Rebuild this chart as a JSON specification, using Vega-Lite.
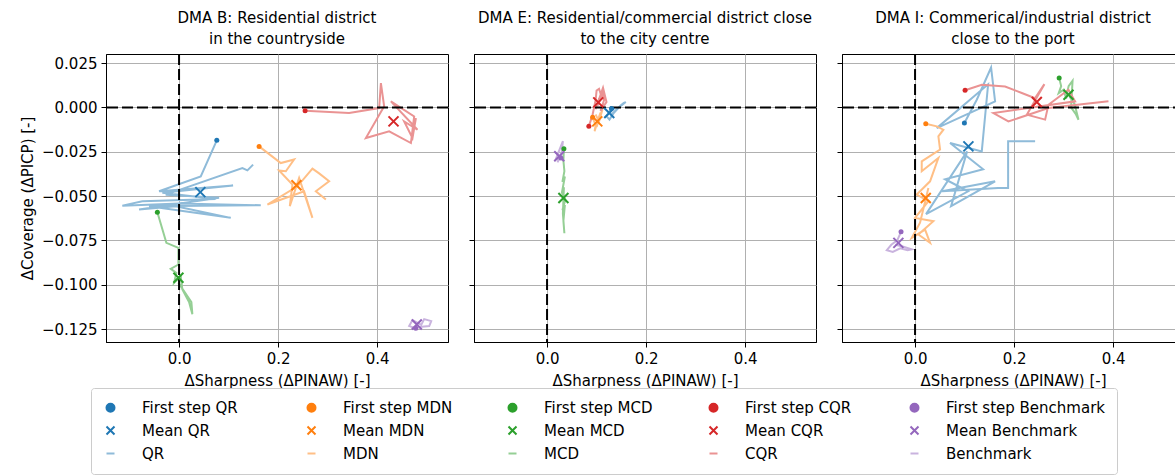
{
"$schema": "https://vega.github.io/schema/vega-lite/v6.json",
"background": "white",
"padding": {"left": 19, "top": 10, "right": 5, "bottom": 5},
"spacing": 18,
"data": {"values": [
{"p":"B","t":"l","s":"QR","i":0,"x":0.0762,"y":-0.0186},
{"p":"B","t":"l","s":"QR","i":1,"x":0.0438,"y":-0.0389},
{"p":"B","t":"l","s":"QR","i":2,"x":-0.0404,"y":-0.0473},
{"p":"B","t":"l","s":"QR","i":3,"x":0.1091,"y":-0.0441},
{"p":"B","t":"l","s":"QR","i":4,"x":-0.0337,"y":-0.0482},
{"p":"B","t":"l","s":"QR","i":5,"x":0.0741,"y":-0.0516},
{"p":"B","t":"l","s":"QR","i":6,"x":-0.0741,"y":-0.0529},
{"p":"B","t":"l","s":"QR","i":7,"x":-0.1145,"y":-0.0554},
{"p":"B","t":"l","s":"QR","i":8,"x":0.0,"y":-0.0542},
{"p":"B","t":"l","s":"QR","i":9,"x":0.165,"y":-0.0552},
{"p":"B","t":"l","s":"QR","i":10,"x":-0.0606,"y":-0.0557},
{"p":"B","t":"l","s":"QR","i":11,"x":0.1044,"y":-0.0623},
{"p":"B","t":"l","s":"QR","i":12,"x":-0.0067,"y":-0.0557},
{"p":"B","t":"l","s":"QR","i":13,"x":-0.0808,"y":-0.0576},
{"p":"B","t":"l","s":"QR","i":14,"x":0.0808,"y":-0.051},
{"p":"B","t":"l","s":"QR","i":15,"x":-0.0269,"y":-0.0492},
{"p":"B","t":"l","s":"QR","i":16,"x":0.1279,"y":-0.0342},
{"p":"B","t":"l","s":"QR","i":17,"x":0.138,"y":-0.0355},
{"p":"B","t":"l","s":"QR","i":18,"x":0.1495,"y":-0.0323},
{"p":"B","t":"l","s":"MDN","i":0,"x":0.1616,"y":-0.022},
{"p":"B","t":"l","s":"MDN","i":1,"x":0.2054,"y":-0.0314},
{"p":"B","t":"l","s":"MDN","i":2,"x":0.2323,"y":-0.0294},
{"p":"B","t":"l","s":"MDN","i":3,"x":0.2156,"y":-0.036},
{"p":"B","t":"l","s":"MDN","i":4,"x":0.202,"y":-0.0356},
{"p":"B","t":"l","s":"MDN","i":5,"x":0.2289,"y":-0.0435},
{"p":"B","t":"l","s":"MDN","i":6,"x":0.2236,"y":-0.0557},
{"p":"B","t":"l","s":"MDN","i":7,"x":0.2424,"y":-0.0398},
{"p":"B","t":"l","s":"MDN","i":8,"x":0.2693,"y":-0.0623},
{"p":"B","t":"l","s":"MDN","i":9,"x":0.2525,"y":-0.0473},
{"p":"B","t":"l","s":"MDN","i":10,"x":0.1784,"y":-0.0548},
{"p":"B","t":"l","s":"MDN","i":11,"x":0.239,"y":-0.0445},
{"p":"B","t":"l","s":"MDN","i":12,"x":0.2693,"y":-0.0345},
{"p":"B","t":"l","s":"MDN","i":13,"x":0.2828,"y":-0.0372},
{"p":"B","t":"l","s":"MDN","i":14,"x":0.303,"y":-0.0417},
{"p":"B","t":"l","s":"MDN","i":15,"x":0.2762,"y":-0.0473},
{"p":"B","t":"l","s":"MDN","i":16,"x":0.2964,"y":-0.052},
{"p":"B","t":"l","s":"MCD","i":0,"x":-0.0438,"y":-0.0591},
{"p":"B","t":"l","s":"MCD","i":1,"x":-0.0256,"y":-0.0764},
{"p":"B","t":"l","s":"MCD","i":2,"x":-0.0013,"y":-0.0792},
{"p":"B","t":"l","s":"MCD","i":3,"x":-0.0013,"y":-0.0886},
{"p":"B","t":"l","s":"MCD","i":4,"x":-0.0168,"y":-0.091},
{"p":"B","t":"l","s":"MCD","i":5,"x":-0.0054,"y":-0.0933},
{"p":"B","t":"l","s":"MCD","i":6,"x":-0.0101,"y":-0.0989},
{"p":"B","t":"l","s":"MCD","i":7,"x":0.0034,"y":-0.0952},
{"p":"B","t":"l","s":"MCD","i":8,"x":0.0067,"y":-0.1027},
{"p":"B","t":"l","s":"MCD","i":9,"x":0.0202,"y":-0.1098},
{"p":"B","t":"l","s":"MCD","i":10,"x":0.0269,"y":-0.1167},
{"p":"B","t":"l","s":"MCD","i":11,"x":0.0249,"y":-0.1098},
{"p":"B","t":"l","s":"MCD","i":12,"x":-0.0013,"y":-0.0989},
{"p":"B","t":"l","s":"CQR","i":0,"x":0.2545,"y":-0.0019},
{"p":"B","t":"l","s":"CQR","i":1,"x":0.3434,"y":-0.0032},
{"p":"B","t":"l","s":"CQR","i":2,"x":0.404,"y":-0.0004},
{"p":"B","t":"l","s":"CQR","i":3,"x":0.4075,"y":0.0137},
{"p":"B","t":"l","s":"CQR","i":4,"x":0.4141,"y":0.0006},
{"p":"B","t":"l","s":"CQR","i":5,"x":0.3772,"y":-0.0173},
{"p":"B","t":"l","s":"CQR","i":6,"x":0.4242,"y":-0.0135},
{"p":"B","t":"l","s":"CQR","i":7,"x":0.4681,"y":-0.0201},
{"p":"B","t":"l","s":"CQR","i":8,"x":0.4747,"y":-0.0051},
{"p":"B","t":"l","s":"CQR","i":9,"x":0.4277,"y":0.0034},
{"p":"B","t":"l","s":"CQR","i":10,"x":0.4814,"y":-0.0126},
{"p":"B","t":"l","s":"CQR","i":11,"x":0.4545,"y":-0.0079},
{"p":"B","t":"l","s":"CQR","i":12,"x":0.4713,"y":-0.0173},
{"p":"B","t":"l","s":"CQR","i":13,"x":0.4782,"y":-0.006},
{"p":"B","t":"l","s":"Benchmark","i":0,"x":0.478,"y":-0.1246},
{"p":"B","t":"l","s":"Benchmark","i":1,"x":0.4646,"y":-0.1233},
{"p":"B","t":"l","s":"Benchmark","i":2,"x":0.4713,"y":-0.1199},
{"p":"B","t":"l","s":"Benchmark","i":3,"x":0.4889,"y":-0.1227},
{"p":"B","t":"l","s":"Benchmark","i":4,"x":0.4949,"y":-0.1194},
{"p":"B","t":"l","s":"Benchmark","i":5,"x":0.5091,"y":-0.1205},
{"p":"B","t":"l","s":"Benchmark","i":6,"x":0.5051,"y":-0.1233},
{"p":"B","t":"l","s":"Benchmark","i":7,"x":0.4848,"y":-0.1239},
{"p":"B","t":"f","s":"First step QR","x":0.0762,"y":-0.0186},
{"p":"B","t":"f","s":"First step MDN","x":0.1616,"y":-0.022},
{"p":"B","t":"f","s":"First step MCD","x":-0.0438,"y":-0.0591},
{"p":"B","t":"f","s":"First step CQR","x":0.2545,"y":-0.0019},
{"p":"B","t":"f","s":"First step Benchmark","x":0.478,"y":-0.1246},
{"p":"B","t":"m","s":"Mean QR","x":0.043,"y":-0.0478},
{"p":"B","t":"m","s":"Mean MDN","x":0.237,"y":-0.0439},
{"p":"B","t":"m","s":"Mean MCD","x":-0.0013,"y":-0.0961},
{"p":"B","t":"m","s":"Mean CQR","x":0.433,"y":-0.0079},
{"p":"B","t":"m","s":"Mean Benchmark","x":0.48,"y":-0.1224},
{"p":"E","t":"l","s":"QR","i":0,"x":0.13,"y":-0.0007},
{"p":"E","t":"l","s":"QR","i":1,"x":0.12,"y":-0.005},
{"p":"E","t":"l","s":"QR","i":2,"x":0.126,"y":-0.0069},
{"p":"E","t":"l","s":"QR","i":3,"x":0.135,"y":-0.003},
{"p":"E","t":"l","s":"QR","i":4,"x":0.142,"y":-0.001},
{"p":"E","t":"l","s":"QR","i":5,"x":0.148,"y":0.001},
{"p":"E","t":"l","s":"QR","i":6,"x":0.155,"y":0.0025},
{"p":"E","t":"l","s":"QR","i":7,"x":0.159,"y":0.003},
{"p":"E","t":"l","s":"QR","i":8,"x":0.145,"y":0.0},
{"p":"E","t":"l","s":"QR","i":9,"x":0.13,"y":-0.004},
{"p":"E","t":"l","s":"MDN","i":0,"x":0.092,"y":-0.0056},
{"p":"E","t":"l","s":"MDN","i":1,"x":0.098,"y":-0.01},
{"p":"E","t":"l","s":"MDN","i":2,"x":0.096,"y":-0.0135},
{"p":"E","t":"l","s":"MDN","i":3,"x":0.104,"y":-0.006},
{"p":"E","t":"l","s":"MDN","i":4,"x":0.108,"y":-0.003},
{"p":"E","t":"l","s":"MDN","i":5,"x":0.1,"y":-0.011},
{"p":"E","t":"l","s":"MDN","i":6,"x":0.112,"y":-0.001},
{"p":"E","t":"l","s":"MDN","i":7,"x":0.105,"y":-0.008},
{"p":"E","t":"l","s":"MDN","i":8,"x":0.098,"y":-0.004},
{"p":"E","t":"l","s":"MCD","i":0,"x":0.034,"y":-0.0233},
{"p":"E","t":"l","s":"MCD","i":1,"x":0.033,"y":-0.03},
{"p":"E","t":"l","s":"MCD","i":2,"x":0.035,"y":-0.036},
{"p":"E","t":"l","s":"MCD","i":3,"x":0.031,"y":-0.042},
{"p":"E","t":"l","s":"MCD","i":4,"x":0.036,"y":-0.039},
{"p":"E","t":"l","s":"MCD","i":5,"x":0.03,"y":-0.048},
{"p":"E","t":"l","s":"MCD","i":6,"x":0.037,"y":-0.052},
{"p":"E","t":"l","s":"MCD","i":7,"x":0.031,"y":-0.058},
{"p":"E","t":"l","s":"MCD","i":8,"x":0.036,"y":-0.055},
{"p":"E","t":"l","s":"MCD","i":9,"x":0.033,"y":-0.064},
{"p":"E","t":"l","s":"MCD","i":10,"x":0.035,"y":-0.071},
{"p":"E","t":"l","s":"MCD","i":11,"x":0.032,"y":-0.06},
{"p":"E","t":"l","s":"MCD","i":12,"x":0.034,"y":-0.045},
{"p":"E","t":"l","s":"CQR","i":0,"x":0.0844,"y":-0.0107},
{"p":"E","t":"l","s":"CQR","i":1,"x":0.092,"y":-0.004},
{"p":"E","t":"l","s":"CQR","i":2,"x":0.098,"y":0.004},
{"p":"E","t":"l","s":"CQR","i":3,"x":0.1,"y":0.0095},
{"p":"E","t":"l","s":"CQR","i":4,"x":0.105,"y":0.0105},
{"p":"E","t":"l","s":"CQR","i":5,"x":0.11,"y":0.006},
{"p":"E","t":"l","s":"CQR","i":6,"x":0.102,"y":0.001},
{"p":"E","t":"l","s":"CQR","i":7,"x":0.112,"y":0.009},
{"p":"E","t":"l","s":"CQR","i":8,"x":0.115,"y":0.004},
{"p":"E","t":"l","s":"CQR","i":9,"x":0.108,"y":-0.002},
{"p":"E","t":"l","s":"CQR","i":10,"x":0.12,"y":0.003},
{"p":"E","t":"l","s":"CQR","i":11,"x":0.113,"y":0.011},
{"p":"E","t":"l","s":"CQR","i":12,"x":0.098,"y":-0.001},
{"p":"E","t":"l","s":"CQR","i":13,"x":0.105,"y":0.005},
{"p":"E","t":"l","s":"Benchmark","i":0,"x":0.028,"y":-0.0285},
{"p":"E","t":"l","s":"Benchmark","i":1,"x":0.018,"y":-0.029},
{"p":"E","t":"l","s":"Benchmark","i":2,"x":0.025,"y":-0.024},
{"p":"E","t":"l","s":"Benchmark","i":3,"x":0.032,"y":-0.019},
{"p":"E","t":"l","s":"Benchmark","i":4,"x":0.029,"y":-0.027},
{"p":"E","t":"l","s":"Benchmark","i":5,"x":0.021,"y":-0.031},
{"p":"E","t":"l","s":"Benchmark","i":6,"x":0.03,"y":-0.025},
{"p":"E","t":"f","s":"First step QR","x":0.13,"y":-0.0007},
{"p":"E","t":"f","s":"First step MDN","x":0.092,"y":-0.0056},
{"p":"E","t":"f","s":"First step MCD","x":0.034,"y":-0.0233},
{"p":"E","t":"f","s":"First step CQR","x":0.0844,"y":-0.0107},
{"p":"E","t":"f","s":"First step Benchmark","x":0.028,"y":-0.0285},
{"p":"E","t":"m","s":"Mean QR","x":0.1256,"y":-0.0032},
{"p":"E","t":"m","s":"Mean MDN","x":0.1014,"y":-0.0079},
{"p":"E","t":"m","s":"Mean MCD","x":0.033,"y":-0.0511},
{"p":"E","t":"m","s":"Mean CQR","x":0.1034,"y":0.0028},
{"p":"E","t":"m","s":"Mean Benchmark","x":0.0246,"y":-0.0276},
{"p":"I","t":"l","s":"QR","i":0,"x":0.0996,"y":-0.0088},
{"p":"I","t":"l","s":"QR","i":1,"x":0.1246,"y":0.0043},
{"p":"I","t":"l","s":"QR","i":2,"x":0.1535,"y":0.0225},
{"p":"I","t":"l","s":"QR","i":3,"x":0.1616,"y":0.0034},
{"p":"I","t":"l","s":"QR","i":4,"x":0.0438,"y":-0.0117},
{"p":"I","t":"l","s":"QR","i":5,"x":0.1475,"y":0.013},
{"p":"I","t":"l","s":"QR","i":6,"x":0.1347,"y":-0.0248},
{"p":"I","t":"l","s":"QR","i":7,"x":0.0707,"y":-0.0201},
{"p":"I","t":"l","s":"QR","i":8,"x":0.1374,"y":-0.0349},
{"p":"I","t":"l","s":"QR","i":9,"x":0.0606,"y":-0.0405},
{"p":"I","t":"l","s":"QR","i":10,"x":0.1071,"y":-0.0473},
{"p":"I","t":"l","s":"QR","i":11,"x":0.0222,"y":-0.0602},
{"p":"I","t":"l","s":"QR","i":12,"x":0.1051,"y":-0.0248},
{"p":"I","t":"l","s":"QR","i":13,"x":0.0727,"y":-0.0557},
{"p":"I","t":"l","s":"QR","i":14,"x":0.1616,"y":-0.0417},
{"p":"I","t":"l","s":"QR","i":15,"x":0.0545,"y":-0.0473},
{"p":"I","t":"l","s":"QR","i":16,"x":0.1677,"y":-0.0454},
{"p":"I","t":"l","s":"QR","i":17,"x":0.1879,"y":-0.0454},
{"p":"I","t":"l","s":"QR","i":18,"x":0.1879,"y":-0.0191},
{"p":"I","t":"l","s":"QR","i":19,"x":0.2424,"y":-0.0191},
{"p":"I","t":"l","s":"MDN","i":0,"x":0.0216,"y":-0.0092},
{"p":"I","t":"l","s":"MDN","i":1,"x":0.0438,"y":-0.0107},
{"p":"I","t":"l","s":"MDN","i":2,"x":0.0572,"y":-0.0126},
{"p":"I","t":"l","s":"MDN","i":3,"x":0.0471,"y":-0.0163},
{"p":"I","t":"l","s":"MDN","i":4,"x":0.0505,"y":-0.0238},
{"p":"I","t":"l","s":"MDN","i":5,"x":0.0135,"y":-0.0304},
{"p":"I","t":"l","s":"MDN","i":6,"x":0.0135,"y":-0.036},
{"p":"I","t":"l","s":"MDN","i":7,"x":0.0471,"y":-0.0285},
{"p":"I","t":"l","s":"MDN","i":8,"x":0.0303,"y":-0.0417},
{"p":"I","t":"l","s":"MDN","i":9,"x":0.0034,"y":-0.0492},
{"p":"I","t":"l","s":"MDN","i":10,"x":0.0269,"y":-0.0529},
{"p":"I","t":"l","s":"MDN","i":11,"x":0.0,"y":-0.0623},
{"p":"I","t":"l","s":"MDN","i":12,"x":0.037,"y":-0.0642},
{"p":"I","t":"l","s":"MDN","i":13,"x":0.0067,"y":-0.0717},
{"p":"I","t":"l","s":"MDN","i":14,"x":0.0303,"y":-0.0764},
{"p":"I","t":"l","s":"MDN","i":15,"x":0.0202,"y":-0.0689},
{"p":"I","t":"l","s":"MDN","i":16,"x":-0.0067,"y":-0.0736},
{"p":"I","t":"l","s":"MDN","i":17,"x":0.0101,"y":-0.065},
{"p":"I","t":"l","s":"MDN","i":18,"x":0.0269,"y":-0.0455},
{"p":"I","t":"l","s":"MCD","i":0,"x":0.291,"y":0.0165},
{"p":"I","t":"l","s":"MCD","i":1,"x":0.295,"y":0.012},
{"p":"I","t":"l","s":"MCD","i":2,"x":0.29,"y":0.008},
{"p":"I","t":"l","s":"MCD","i":3,"x":0.3,"y":0.01},
{"p":"I","t":"l","s":"MCD","i":4,"x":0.305,"y":0.005},
{"p":"I","t":"l","s":"MCD","i":5,"x":0.31,"y":0.012},
{"p":"I","t":"l","s":"MCD","i":6,"x":0.318,"y":0.015},
{"p":"I","t":"l","s":"MCD","i":7,"x":0.315,"y":0.0},
{"p":"I","t":"l","s":"MCD","i":8,"x":0.325,"y":-0.004},
{"p":"I","t":"l","s":"MCD","i":9,"x":0.33,"y":-0.007},
{"p":"I","t":"l","s":"MCD","i":10,"x":0.322,"y":0.002},
{"p":"I","t":"l","s":"MCD","i":11,"x":0.312,"y":0.006},
{"p":"I","t":"l","s":"CQR","i":0,"x":0.101,"y":0.0097},
{"p":"I","t":"l","s":"CQR","i":1,"x":0.1347,"y":0.0128},
{"p":"I","t":"l","s":"CQR","i":2,"x":0.1818,"y":0.0118},
{"p":"I","t":"l","s":"CQR","i":3,"x":0.2155,"y":0.0081},
{"p":"I","t":"l","s":"CQR","i":4,"x":0.2424,"y":0.0052},
{"p":"I","t":"l","s":"CQR","i":5,"x":0.2612,"y":0.0131},
{"p":"I","t":"l","s":"CQR","i":6,"x":0.2257,"y":-0.0041},
{"p":"I","t":"l","s":"CQR","i":7,"x":0.2626,"y":-0.0069},
{"p":"I","t":"l","s":"CQR","i":8,"x":0.2693,"y":0.0015},
{"p":"I","t":"l","s":"CQR","i":9,"x":0.3097,"y":0.01},
{"p":"I","t":"l","s":"CQR","i":10,"x":0.3232,"y":0.0034},
{"p":"I","t":"l","s":"CQR","i":11,"x":0.1582,"y":-0.0032},
{"p":"I","t":"l","s":"CQR","i":12,"x":0.1885,"y":-0.0079},
{"p":"I","t":"l","s":"CQR","i":13,"x":0.2693,"y":-0.0004},
{"p":"I","t":"l","s":"CQR","i":14,"x":0.3905,"y":0.0034},
{"p":"I","t":"l","s":"Benchmark","i":0,"x":-0.0283,"y":-0.0702},
{"p":"I","t":"l","s":"Benchmark","i":1,"x":-0.036,"y":-0.075},
{"p":"I","t":"l","s":"Benchmark","i":2,"x":-0.048,"y":-0.0775},
{"p":"I","t":"l","s":"Benchmark","i":3,"x":-0.057,"y":-0.0805},
{"p":"I","t":"l","s":"Benchmark","i":4,"x":-0.045,"y":-0.0815},
{"p":"I","t":"l","s":"Benchmark","i":5,"x":-0.03,"y":-0.0795},
{"p":"I","t":"l","s":"Benchmark","i":6,"x":-0.015,"y":-0.0805},
{"p":"I","t":"l","s":"Benchmark","i":7,"x":-0.007,"y":-0.08},
{"p":"I","t":"l","s":"Benchmark","i":8,"x":-0.025,"y":-0.0785},
{"p":"I","t":"l","s":"Benchmark","i":9,"x":-0.04,"y":-0.0775},
{"p":"I","t":"f","s":"First step QR","x":0.0996,"y":-0.0088},
{"p":"I","t":"f","s":"First step MDN","x":0.0216,"y":-0.0092},
{"p":"I","t":"f","s":"First step MCD","x":0.291,"y":0.0165},
{"p":"I","t":"f","s":"First step CQR","x":0.101,"y":0.0097},
{"p":"I","t":"f","s":"First step Benchmark","x":-0.0283,"y":-0.0702},
{"p":"I","t":"m","s":"Mean QR","x":0.1077,"y":-0.022},
{"p":"I","t":"m","s":"Mean MDN","x":0.0216,"y":-0.0511},
{"p":"I","t":"m","s":"Mean MCD","x":0.3098,"y":0.0071},
{"p":"I","t":"m","s":"Mean CQR","x":0.2458,"y":0.003},
{"p":"I","t":"m","s":"Mean Benchmark","x":-0.0337,"y":-0.0764}
]},
"hconcat": [
{
 "width": 342, "height": 288,
 "title": {"text": ["DMA B: Residential district", "in the countryside"]},
 "layer": [
  {"transform": [{"filter": "datum.p=='B' && datum.t=='l'"}],
   "mark": {"type": "line", "strokeWidth": 2},
   "encoding": {
    "x": {"field": "x", "type": "quantitative", "scale": {"domain": [-0.1475, 0.543], "nice": false, "zero": false}, "axis": {"values": [0, 0.2, 0.4], "format": ".1f", "title": "ΔSharpness (ΔPINAW) [-]"}},
    "y": {"field": "y", "type": "quantitative", "scale": {"domain": [-0.1323, 0.0301], "nice": false, "zero": false}, "axis": {"values": [-0.125, -0.1, -0.075, -0.05, -0.025, 0, 0.025], "format": ".3f", "title": "ΔCoverage (ΔPICP) [-]"}},
    "color": {"field": "s", "type": "nominal",
      "scale": {"domain": ["First step QR","First step MDN","First step MCD","First step CQR","First step Benchmark","Mean QR","Mean MDN","Mean MCD","Mean CQR","Mean Benchmark","QR","MDN","MCD","CQR","Benchmark"],
                "range": ["#1f77b4","#ff7f0e","#2ca02c","#d62728","#9467bd","#1f77b4","#ff7f0e","#2ca02c","#d62728","#9467bd","#8fbbd9","#ffbf86","#95cf95","#ea9393","#c9b3de"]},
      "legend": {"title": null, "orient": "none", "legendX": -15, "legendY": 334, "direction": "horizontal", "columns": 5, "gridAlign": "all",
        "symbolSize": 64, "symbolStrokeWidth": 2, "labelFontSize": 15, "labelFont": "DejaVu Sans", "labelColor": "black", "labelOffset": 24, "columnPadding": 2, "rowPadding": 6,
        "padding": 12, "strokeColor": "#cccccc", "fillColor": "white", "cornerRadius": 3, "labelLimit": 300}},
    "order": {"field": "i", "type": "quantitative"}
   }},
  {"data": {"values": [{"v": 0}]}, "mark": {"type": "rule", "color": "black", "strokeWidth": 2, "strokeDash": [11, 4]}, "encoding": {"x": {"field": "v", "type": "quantitative"}}},
  {"data": {"values": [{"v": 0}]}, "mark": {"type": "rule", "color": "black", "strokeWidth": 2, "strokeDash": [11, 4]}, "encoding": {"y": {"field": "v", "type": "quantitative"}}},
  {"transform": [{"filter": "datum.p=='B' && datum.t=='f'"}],
   "mark": {"type": "point", "filled": true, "size": 25, "opacity": 1},
   "encoding": {
    "x": {"field": "x", "type": "quantitative"},
    "y": {"field": "y", "type": "quantitative"},
    "color": {"field": "s", "type": "nominal"},
    "shape": {"field": "s", "type": "nominal",
      "scale": {"domain": ["First step QR","First step MDN","First step MCD","First step CQR","First step Benchmark","Mean QR","Mean MDN","Mean MCD","Mean CQR","Mean Benchmark","QR","MDN","MCD","CQR","Benchmark"],
                "range": ["circle","circle","circle","circle","circle","M-1,-1L1,1M-1,1L1,-1","M-1,-1L1,1M-1,1L1,-1","M-1,-1L1,1M-1,1L1,-1","M-1,-1L1,1M-1,1L1,-1","M-1,-1L1,1M-1,1L1,-1","stroke","stroke","stroke","stroke","stroke"]}}
   }},
  {"transform": [{"filter": "datum.p=='B' && datum.t=='m'"}],
   "mark": {"type": "point", "filled": false, "size": 100, "strokeWidth": 2, "opacity": 1},
   "encoding": {
    "x": {"field": "x", "type": "quantitative"},
    "y": {"field": "y", "type": "quantitative"},
    "color": {"field": "s", "type": "nominal"},
    "shape": {"field": "s", "type": "nominal"}
   }}
 ]
},
{
 "width": 342, "height": 288,
 "title": {"text": ["DMA E: Residential/commercial district close", "to the city centre"]},
 "layer": [
  {"transform": [{"filter": "datum.p=='E' && datum.t=='l'"}],
   "mark": {"type": "line", "strokeWidth": 2},
   "encoding": {
    "x": {"field": "x", "type": "quantitative", "scale": {"domain": [-0.1475, 0.543], "nice": false, "zero": false}, "axis": {"values": [0, 0.2, 0.4], "format": ".1f", "title": "ΔSharpness (ΔPINAW) [-]"}},
    "y": {"field": "y", "type": "quantitative", "scale": {"domain": [-0.1323, 0.0301], "nice": false, "zero": false}, "axis": {"values": [-0.125, -0.1, -0.075, -0.05, -0.025, 0, 0.025], "labels": false, "title": null}},
    "color": {"field": "s", "type": "nominal"},
    "order": {"field": "i", "type": "quantitative"}
   }},
  {"data": {"values": [{"v": 0}]}, "mark": {"type": "rule", "color": "black", "strokeWidth": 2, "strokeDash": [11, 4]}, "encoding": {"x": {"field": "v", "type": "quantitative"}}},
  {"data": {"values": [{"v": 0}]}, "mark": {"type": "rule", "color": "black", "strokeWidth": 2, "strokeDash": [11, 4]}, "encoding": {"y": {"field": "v", "type": "quantitative"}}},
  {"transform": [{"filter": "datum.p=='E' && datum.t=='f'"}],
   "mark": {"type": "point", "filled": true, "size": 25, "opacity": 1},
   "encoding": {
    "x": {"field": "x", "type": "quantitative"},
    "y": {"field": "y", "type": "quantitative"},
    "color": {"field": "s", "type": "nominal"},
    "shape": {"field": "s", "type": "nominal"}
   }},
  {"transform": [{"filter": "datum.p=='E' && datum.t=='m'"}],
   "mark": {"type": "point", "filled": false, "size": 100, "strokeWidth": 2, "opacity": 1},
   "encoding": {
    "x": {"field": "x", "type": "quantitative"},
    "y": {"field": "y", "type": "quantitative"},
    "color": {"field": "s", "type": "nominal"},
    "shape": {"field": "s", "type": "nominal"}
   }}
 ]
},
{
 "width": 342, "height": 288,
 "title": {"text": ["DMA I: Commerical/industrial district", "close to the port"]},
 "layer": [
  {"transform": [{"filter": "datum.p=='I' && datum.t=='l'"}],
   "mark": {"type": "line", "strokeWidth": 2},
   "encoding": {
    "x": {"field": "x", "type": "quantitative", "scale": {"domain": [-0.1475, 0.543], "nice": false, "zero": false}, "axis": {"values": [0, 0.2, 0.4], "format": ".1f", "title": "ΔSharpness (ΔPINAW) [-]"}},
    "y": {"field": "y", "type": "quantitative", "scale": {"domain": [-0.1323, 0.0301], "nice": false, "zero": false}, "axis": {"values": [-0.125, -0.1, -0.075, -0.05, -0.025, 0, 0.025], "labels": false, "title": null}},
    "color": {"field": "s", "type": "nominal"},
    "order": {"field": "i", "type": "quantitative"}
   }},
  {"data": {"values": [{"v": 0}]}, "mark": {"type": "rule", "color": "black", "strokeWidth": 2, "strokeDash": [11, 4]}, "encoding": {"x": {"field": "v", "type": "quantitative"}}},
  {"data": {"values": [{"v": 0}]}, "mark": {"type": "rule", "color": "black", "strokeWidth": 2, "strokeDash": [11, 4]}, "encoding": {"y": {"field": "v", "type": "quantitative"}}},
  {"transform": [{"filter": "datum.p=='I' && datum.t=='f'"}],
   "mark": {"type": "point", "filled": true, "size": 25, "opacity": 1},
   "encoding": {
    "x": {"field": "x", "type": "quantitative"},
    "y": {"field": "y", "type": "quantitative"},
    "color": {"field": "s", "type": "nominal"},
    "shape": {"field": "s", "type": "nominal"}
   }},
  {"transform": [{"filter": "datum.p=='I' && datum.t=='m'"}],
   "mark": {"type": "point", "filled": false, "size": 100, "strokeWidth": 2, "opacity": 1},
   "encoding": {
    "x": {"field": "x", "type": "quantitative"},
    "y": {"field": "y", "type": "quantitative"},
    "color": {"field": "s", "type": "nominal"},
    "shape": {"field": "s", "type": "nominal"}
   }}
 ]
}
],
"config": {
 "font": "DejaVu Sans",
 "view": {"stroke": "black", "strokeWidth": 1},
 "title": {"font": "DejaVu Sans", "fontSize": 15, "fontWeight": "normal", "color": "black", "anchor": "middle", "lineHeight": 21, "offset": 6},
 "axis": {"labelFont": "DejaVu Sans", "labelFontSize": 15, "titleFont": "DejaVu Sans", "titleFontSize": 15, "titleFontWeight": "normal", "labelColor": "black", "titleColor": "black", "tickColor": "black", "domainColor": "black", "tickSize": 5, "gridColor": "#b0b0b0", "gridWidth": 1, "labelPadding": 4},
 "axisX": {"titlePadding": 7},
 "axisY": {"titlePadding": 6}
}
}
